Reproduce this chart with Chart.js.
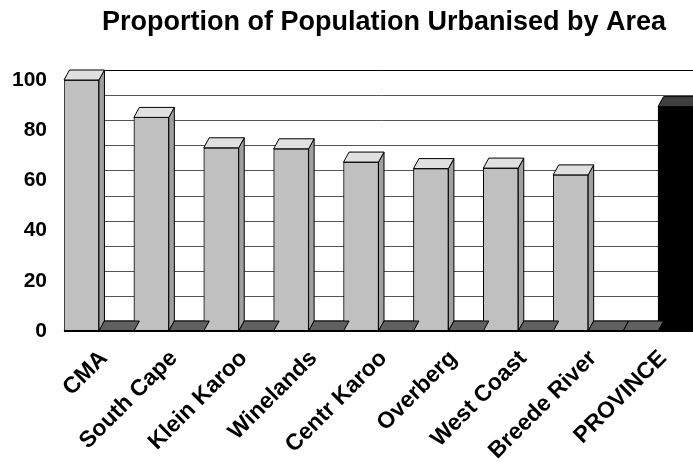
<!DOCTYPE html>
<html>
<head>
<meta charset="utf-8">
<script src="https://cdn.jsdelivr.net/npm/chart.js@4/dist/chart.umd.min.js"></script>
<style>
  html, body { margin: 0; padding: 0; background: #fff; overflow: hidden; }
  canvas { display: block; }
</style>
</head>
<body>
<canvas id="chart" width="693" height="462"></canvas>
<script>
// data
const categories = ["CMA", "South Cape", "Klein Karoo", "Winelands", "Centr Karoo", "Overberg", "West Coast", "Breede River", "PROVINCE"];
const areaValues = [100, 85.1, 73.0, 72.6, 67.3, 64.7, 64.9, 62.2, 0];
const provinceValues = [0, 0, 0, 0, 0, 0, 0, 0, 89.4];
const yTicks = [0, 20, 40, 60, 80, 100];
const gridSteps = [10, 20, 30, 40, 50, 60, 70, 80, 90];

const titleText = "Proportion of Population Urbanised by Area";
const FONT = '"Liberation Sans", Arial, sans-serif';

// depth of the fake 3D boxes
const DX = 5.5, DY = 10;

function poly(ctx, pts, fill, stroke) {
  ctx.beginPath();
  ctx.moveTo(pts[0][0], pts[0][1]);
  for (let i = 1; i < pts.length; i++) ctx.lineTo(pts[i][0], pts[i][1]);
  ctx.closePath();
  if (fill) { ctx.fillStyle = fill; ctx.fill(); }
  if (stroke) { ctx.strokeStyle = stroke; ctx.lineWidth = 1; ctx.stroke(); }
}

const box3d = {
  id: "box3d",
  beforeDatasetsDraw(chart) {
    const { ctx, chartArea: a, scales: { y } } = chart;
    const y0 = y.getPixelForValue(0);
    const yTop = y.getPixelForValue(100);
    ctx.save();
    // back wall grid
    ctx.strokeStyle = "#555";
    ctx.lineWidth = 1;
    for (const v of gridSteps) {
      const py = Math.round(y.getPixelForValue(v) - DY) + 0.5;
      ctx.beginPath();
      ctx.moveTo(a.left + DX, py);
      ctx.lineTo(a.right + DX, py);
      ctx.stroke();
    }
    ctx.strokeStyle = "#000";
    ctx.beginPath();
    ctx.moveTo(a.left + DX, Math.round(yTop - DY) + 0.5);
    ctx.lineTo(a.right + DX, Math.round(yTop - DY) + 0.5);
    ctx.stroke();
    // floor
    poly(ctx, [[a.left, y0], [a.right, y0], [a.right + DX, y0 - DY], [a.left + DX, y0 - DY]], "#606060", "#333");
    ctx.restore();
  },
  afterDatasetsDraw(chart) {
    const { ctx, chartArea: a, scales: { y } } = chart;
    const y0 = y.getPixelForValue(0);
    const items = [];
    chart.data.datasets.forEach((ds, i) => {
      chart.getDatasetMeta(i).data.forEach((bar, j) => {
        items.push({ bar, ds: i, v: ds.data[j] });
      });
    });
    items.sort((p, q) => p.bar.x - q.bar.x);
    ctx.save();
    for (const it of items) {
      const { x, y: top, base, width } = it.bar.getProps(["x", "y", "base", "width"], true);
      const l = x - width / 2, r = x + width / 2;
      const topCol = it.v === 0 ? "#606060" : (it.ds === 0 ? "#e0e0e0" : "#404040");
      const sideCol = it.ds === 0 ? "#a0a0a0" : "#202020";
      if (it.v !== 0) {
        poly(ctx, [[r, top], [r + DX, top - DY], [r + DX, base - DY], [r, base]], sideCol, "#000");
      }
      poly(ctx, [[l, top], [r, top], [r + DX, top - DY], [l + DX, top - DY]], topCol, "#000");
    }
    // front edge of the floor
    ctx.strokeStyle = "#000";
    ctx.lineWidth = 2;
    ctx.beginPath();
    ctx.moveTo(a.left, y0);
    ctx.lineTo(a.right, y0);
    ctx.stroke();
    ctx.restore();
  },
  afterDraw(chart) {
    const ctx = chart.ctx;
    ctx.save();
    ctx.font = "bold 27px " + FONT;
    ctx.fillStyle = "#000";
    ctx.textAlign = "center";
    ctx.textBaseline = "alphabetic";
    ctx.fillText(titleText, 384, 30);
    ctx.restore();
  }
};

new Chart(document.getElementById("chart"), {
  type: "bar",
  data: {
    labels: categories,
    datasets: [
      {
        label: "Area",
        data: areaValues,
        backgroundColor: "#c0c0c0",
        borderColor: "#000",
        borderWidth: 1,
        categoryPercentage: 1,
        barPercentage: 1
      },
      {
        label: "Province",
        data: provinceValues,
        backgroundColor: "#000",
        borderColor: "#000",
        borderWidth: 1,
        categoryPercentage: 1,
        barPercentage: 1
      }
    ]
  },
  options: {
    responsive: false,
    animation: false,
    layout: { padding: { top: 80, left: 10, right: 0, bottom: 0 } },
    plugins: {
      legend: { display: false },
      title: { display: false },
      tooltip: { enabled: false }
    },
    scales: {
      x: {
        grid: { display: false },
        border: { display: false },
        ticks: {
          color: "#000",
          font: { family: FONT, size: 23, weight: "bold" },
          minRotation: 45,
          maxRotation: 45,
          padding: 6,
          labelOffset: 5
        },
        afterFit(s) { s.height = 131; }
      },
      y: {
        min: 0,
        max: 100,
        grid: { display: false },
        border: { display: false },
        afterBuildTicks(s) { s.ticks = yTicks.map(v => ({ value: v })); },
        ticks: {
          color: "#000",
          font: { family: FONT, size: 21, weight: "bold" },
          padding: 9
        },
        afterFit(s) { s.width = 54; }
      }
    }
  },
  plugins: [box3d]
});
</script>
</body>
</html>
